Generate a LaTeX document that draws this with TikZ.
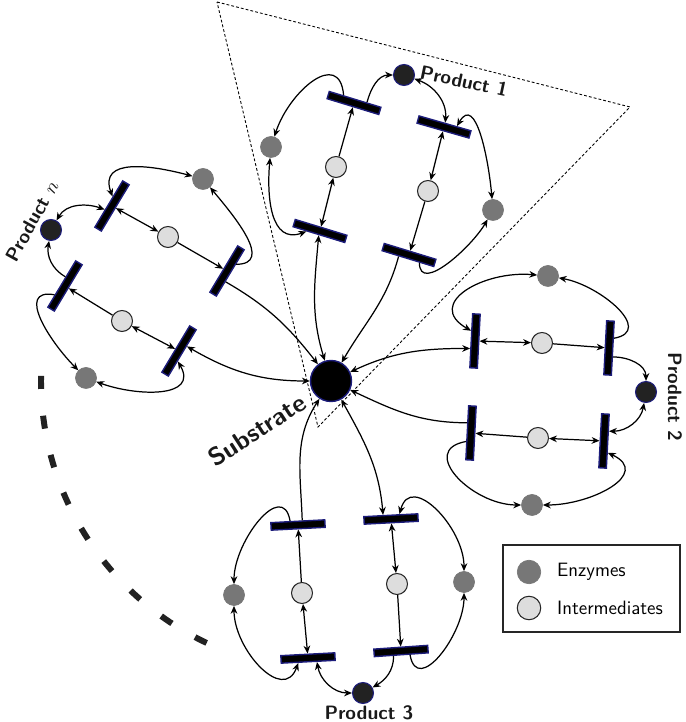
\documentclass[tikz,border=0pt]{standalone}
\usepackage{xcolor}
\usepackage{tikz}
\usetikzlibrary{arrows.meta}

\definecolor{enzgray}{HTML}{777777}
\definecolor{intgray}{HTML}{DDDDDD}
\definecolor{prodfill}{HTML}{222222}
\definecolor{rimblue}{HTML}{1C1C7A}

\begin{document}
\begin{tikzpicture}[x=0.02cm, y=0.02cm,
    >={Stealth[length=4.5pt,width=3.8pt]},
    flow/.style={line width=0.7pt},
    trans/.style={rectangle, draw=rimblue, fill=black, line width=0.8pt, minimum width=1.08cm, minimum height=0.15cm, inner sep=0pt},
    enzyme/.style={circle, fill=enzgray, draw=enzgray, minimum size=0.42cm, inner sep=0pt},
    interm/.style={circle, fill=intgray, draw=black!85, line width=0.6pt, minimum size=0.42cm, inner sep=0pt},
    product/.style={circle, fill=prodfill, draw=rimblue, line width=0.6pt, minimum size=0.42cm, inner sep=0pt},
    substrate/.style={circle, fill=black, draw=rimblue, line width=0.8pt, minimum size=0.82cm, inner sep=0pt},
    lbl/.style={font=\sffamily\bfseries\fontsize{11}{13}\selectfont, text=black!90}]

    \useasboundingbox (0,0) rectangle (685,722);

    % Substrate
    \node[substrate] (sub) at (331,341) {};

    % Sector and missing petals
    \draw[line width=0.5pt, dash pattern=on 1.6pt off 1.2pt] (217,720) -- (630,615) -- (318,295) -- cycle;
    \draw[prodfill, line width=3.4pt, dash pattern=on 7.4pt off 15.3pt] (sub) ++(179:290) arc[start angle=179, end angle=247, radius=5.8cm];

    % Petal 1
    \node[trans, rotate=-17] (t1a) at (320,491) {};
    \node[interm] (i1a) at (336,555) {};
    \node[trans, rotate=-17] (t1b) at (354,619) {};
    \node[product] (p1) at (404,647) {};
    \node[trans, rotate=-16] (t1c) at (444,595) {};
    \node[interm] (i1b) at (428,531) {};
    \node[trans, rotate=-17] (t1d) at (409,467) {};
    \node[enzyme] (e1a) at (271,575) {};
    \node[enzyme] (e1b) at (493,512) {};

    % Petal 2
    \node[trans, rotate=87] (t2a) at (475,381) {};
    \node[interm] (i2a) at (542,379) {};
    \node[trans, rotate=87] (t2b) at (609,374) {};
    \node[product] (p2) at (646,330) {};
    \node[trans, rotate=87] (t2c) at (604,281) {};
    \node[interm] (i2b) at (538,284) {};
    \node[trans, rotate=87] (t2d) at (471,289) {};
    \node[enzyme] (e2a) at (548,446) {};
    \node[enzyme] (e2b) at (532,217) {};

    % Petal 3
    \node[trans, rotate=3] (t3a) at (298,197) {};
    \node[interm] (i3a) at (302,129) {};
    \node[trans, rotate=3] (t3b) at (308,64) {};
    \node[product] (p3) at (363,29) {};
    \node[trans, rotate=3] (t3c) at (391,203) {};
    \node[interm] (i3b) at (397,138) {};
    \node[trans, rotate=4] (t3d) at (401,71) {};
    \node[enzyme] (e3a) at (234,127) {};
    \node[enzyme] (e3b) at (464,140) {};

    % Petal n
    \node[trans, rotate=59] (tna) at (112,516) {};
    \node[interm] (ina) at (168,485) {};
    \node[trans, rotate=59] (tnb) at (227,451) {};
    \node[product] (pn) at (51,492) {};
    \node[trans, rotate=59] (tnc) at (65,436) {};
    \node[interm] (inb) at (122,401) {};
    \node[trans, rotate=59] (tnd) at (179,371) {};
    \node[enzyme] (ena) at (203,543) {};
    \node[enzyme] (enb) at (86,344) {};

    % Labels
    \node[lbl, rotate=-12] (l1) at (464,641) {Product 1};
    \node[lbl, rotate=-90] (l2) at (675,325) {Product 2};
    \node[lbl] (l3) at (369,9) {Product 3};
    \node[lbl, rotate=61] (ln) at (32,501) {Product $n$};
    \node[lbl, font=\sffamily\bfseries\Large, rotate=33] (lsub) at (257,292) {Substrate};

    % Arrows, petal 1
    \draw[<->, flow] (t1a.south) to[out=-95,in=107] (sub);
    \draw[<->, flow] (t1a) -- (i1a);
    \draw[->, flow] (i1a) -- (t1b);
    \draw[->, flow] (t1b.20) to[out=75,in=180] (p1);
    \draw[<->, flow] (p1) to[out=-20,in=85] (t1c.north);
    \draw[<->, flow] (t1c) -- (i1b);
    \draw[->, flow] (i1b) -- (t1d);
    \draw[->, flow] (t1d.205) to[out=-105,in=60] (sub);
    \draw[->, flow] (t1b.160) to[out=95,in=72,looseness=1.5] (e1a);
    \draw[<->, flow] (e1a) to[out=-95,in=200,looseness=1.2] (t1a.199);
    \draw[<->, flow] (t1c.20) to[out=60,in=95,looseness=1.2] (e1b);
    \draw[->, flow] (t1d.-20) to[out=-90,in=-120] (e1b);

    % Arrows, petal 2
    \draw[<->, flow] (sub) to[out=25,in=180] (t2a.150);
    \draw[<->, flow] (t2a) -- (i2a);
    \draw[->, flow] (i2a) -- (t2b);
    \draw[->, flow] (t2b.207) to[out=0,in=90] (p2);
    \draw[<->, flow] (p2) to[out=-100,in=0] (t2c.336);
    \draw[<->, flow] (t2c) -- (i2b);
    \draw[->, flow] (i2b) -- (t2d);
    \draw[->, flow] (t2d.24) to[out=180,in=-25] (sub);
    \draw[->, flow] (t2b.336) to[out=10,in=-10,looseness=1.3] (e2a);
    \draw[<->, flow] (e2a) to[out=175,in=150,looseness=1.6] (t2a.24);
    \draw[<->, flow] (t2c.201) to[out=-25,in=0,looseness=1.5] (e2b);
    \draw[->, flow] (t2d.153) to[out=190,in=180,looseness=1.5] (e2b);

    % Arrows, petal 3
    \draw[->, flow] (t3a.45) to[out=92,in=-123] (sub);
    \draw[->, flow] (i3a) -- (t3a);
    \draw[<->, flow] (t3b) -- (i3a);
    \draw[<->, flow] (p3) to[out=180,in=-80] (t3b.333);
    \draw[->, flow] (t3d.210) to[out=-90,in=30] (p3);
    \draw[->, flow] (i3b) -- (t3d);
    \draw[<->, flow] (t3c) -- (i3b);
    \draw[<->, flow] (sub) to[out=-61,in=95] (t3c.150);
    \draw[->, flow] (t3a.150) to[out=100,in=90,looseness=1.3] (e3a);
    \draw[<->, flow] (e3a) to[out=-90,in=-110,looseness=1.3] (t3b.204);
    \draw[<->, flow] (t3c.27) to[out=75,in=90,looseness=1.3] (e3b);
    \draw[->, flow] (t3d.333) to[out=-80,in=-90,looseness=1.3] (e3b);

    % Arrows, petal n
    \draw[->, flow] (tnb.204) to[out=-30,in=128] (sub);
    \draw[->, flow] (ina) -- (tnb);
    \draw[<->, flow] (tna) -- (ina);
    \draw[<->, flow] (pn) to[out=60,in=160] (tna.147);
    \draw[->, flow] (tnc.29) to[out=150,in=-100] (pn);
    \draw[->, flow] (inb) -- (tnc);
    \draw[<->, flow] (tnd) -- (inb);
    \draw[<->, flow] (sub) to[out=180,in=-30] (tnd.331);
    \draw[<->, flow] (tna.28) to[out=110,in=165,looseness=1.3] (ena);
    \draw[->, flow] (tnb.337) to[out=0,in=-50,looseness=1.2] (ena);
    \draw[->, flow] (tnc.161) to[out=170,in=135,looseness=1.3] (enb);
    \draw[<->, flow] (enb) to[out=-20,in=-60,looseness=1.3] (tnd.205);

    % Legend
    \draw[line width=1pt, black!85] (503,177) rectangle (680,90);
    \node[enzyme, minimum size=0.47cm] (le) at (529,150) {};
    \node[interm, minimum size=0.47cm] (li) at (529,114) {};
    \node[anchor=west, font=\sffamily\fontsize{11}{13}\selectfont] (lte) at (551,150) {Enzymes};
    \node[anchor=west, font=\sffamily\fontsize{11}{13}\selectfont] (lti) at (551,114) {Intermediates};
\end{tikzpicture}
\end{document}
